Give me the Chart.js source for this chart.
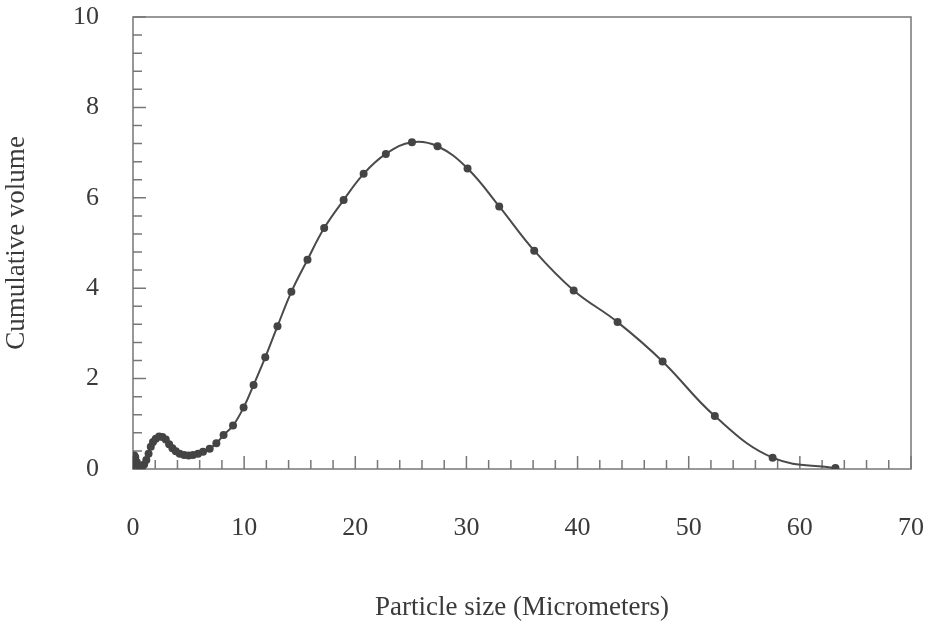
<!DOCTYPE html>
<html lang="en">
<head>
    <meta charset="UTF-8">
    <title>Cumulative volume</title>
    <script src="https://cdn.jsdelivr.net/npm/chart.js"></script>
    <style>
        body { margin: 0; background: #fff; }
        #wrap { width: 933px; height: 632px; }
    </style>
</head>
<body>
    <div id="wrap">
        <canvas id="sizeChart" width="933" height="632"></canvas>
    </div>

    <script>
        // particle size (micrometers) and cumulative volume
        const sizes = [0.0, 0.05, 0.12, 0.2, 0.35, 0.55, 0.8, 1.0, 1.2, 1.4, 1.6, 1.8, 2.05, 2.35, 2.65, 2.95,
            3.25, 3.55, 3.85, 4.2, 4.6, 5.0, 5.4, 5.85, 6.3, 6.9, 7.5, 8.15, 9.0, 9.95, 10.85, 11.9, 13.0,
            14.25, 15.7, 17.2, 18.95, 20.75, 22.75, 25.1, 27.4, 30.1, 32.95, 36.1, 39.65, 43.6, 47.65,
            52.35, 57.55, 63.2];
        const volumes = [0.08, 0.22, 0.3, 0.26, 0.15, 0.07, 0.06, 0.1, 0.2, 0.34, 0.49, 0.6, 0.67, 0.72, 0.71, 0.65,
            0.55, 0.46, 0.39, 0.34, 0.31, 0.3, 0.31, 0.34, 0.38, 0.45, 0.57, 0.75, 0.96, 1.36, 1.86, 2.47, 3.16,
            3.92, 4.63, 5.33, 5.95, 6.53, 6.97, 7.23, 7.14, 6.65, 5.81, 4.83, 3.95, 3.25, 2.38,
            1.17, 0.25, 0.02];

        const xMax = 70, xStep = 10, xMinor = 2;
        const yMax = 10, yStep = 2, yMinor = 0.4;

        const serif = 'Liberation Serif';
        const ink = '#3a3a3a';

        // box round the plot and small inward ticks
        const frameTicks = {
            id: 'frameTicks',
            beforeDatasetsDraw(chart) {
                const { ctx, chartArea: a } = chart;
                const xs = chart.scales.x, ys = chart.scales.y;
                ctx.save();
                ctx.strokeStyle = '#777';
                ctx.lineWidth = 1.5;
                ctx.strokeRect(a.left, a.top, a.right - a.left, a.bottom - a.top);
                ctx.beginPath();
                for (let i = 0; i <= xMax / xMinor; i++) {
                    const v = i * xMinor;
                    const px = xs.getPixelForValue(v);
                    const len = v % xStep === 0 ? 13 : 9;
                    ctx.moveTo(px, a.bottom);
                    ctx.lineTo(px, a.bottom - len);
                }
                const n = Math.round(yMax / yMinor);
                for (let i = 0; i <= n; i++) {
                    const py = ys.getPixelForValue(i * yMinor);
                    const len = i % 5 === 0 ? 13 : 9;
                    ctx.moveTo(a.left, py);
                    ctx.lineTo(a.left + len, py);
                }
                ctx.stroke();
                ctx.restore();
            }
        };

        const points = sizes.map((s, i) => ({ x: s, y: volumes[i] }));

        new Chart(document.getElementById('sizeChart'), {
            type: 'scatter',
            data: {
                datasets: [{
                    data: points,
                    showLine: true,
                    tension: 0.4,
                    borderColor: '#4a4a4a',
                    borderWidth: 2,
                    backgroundColor: '#444',
                    pointRadius: 4,
                    pointBorderWidth: 0
                }]
            },
            options: {
                responsive: false,
                animation: false,
                layout: { padding: { top: 17, right: 22, bottom: 0, left: 0 } },
                plugins: {
                    legend: { display: false },
                    tooltip: { enabled: false }
                },
                scales: {
                    x: {
                        type: 'linear',
                        min: 0,
                        max: xMax,
                        afterFit: s => { s.height = 163; s.paddingLeft = 0; s.paddingRight = 0; },
                        grid: { display: false },
                        border: { display: false },
                        ticks: {
                            stepSize: xStep,
                            padding: 36,
                            color: ink,
                            font: { family: serif, size: 26 }
                        },
                        title: {
                            display: true,
                            text: 'Particle size (Micrometers)',
                            color: ink,
                            font: { family: serif, size: 27 },
                            padding: { top: 0, bottom: 8 }
                        }
                    },
                    y: {
                        min: 0,
                        max: yMax,
                        afterFit: s => { s.width = 133; s.paddingTop = 0; s.paddingBottom = 0; },
                        grid: { display: false },
                        border: { display: false },
                        ticks: {
                            stepSize: yStep,
                            padding: 26,
                            color: ink,
                            font: { family: serif, size: 26 }
                        },
                        title: {
                            display: true,
                            text: 'Cumulative volume',
                            color: ink,
                            font: { family: serif, size: 27 },
                            padding: { top: 1, bottom: 0 }
                        }
                    }
                }
            },
            plugins: [frameTicks]
        });
    </script>
</body>
</html>
